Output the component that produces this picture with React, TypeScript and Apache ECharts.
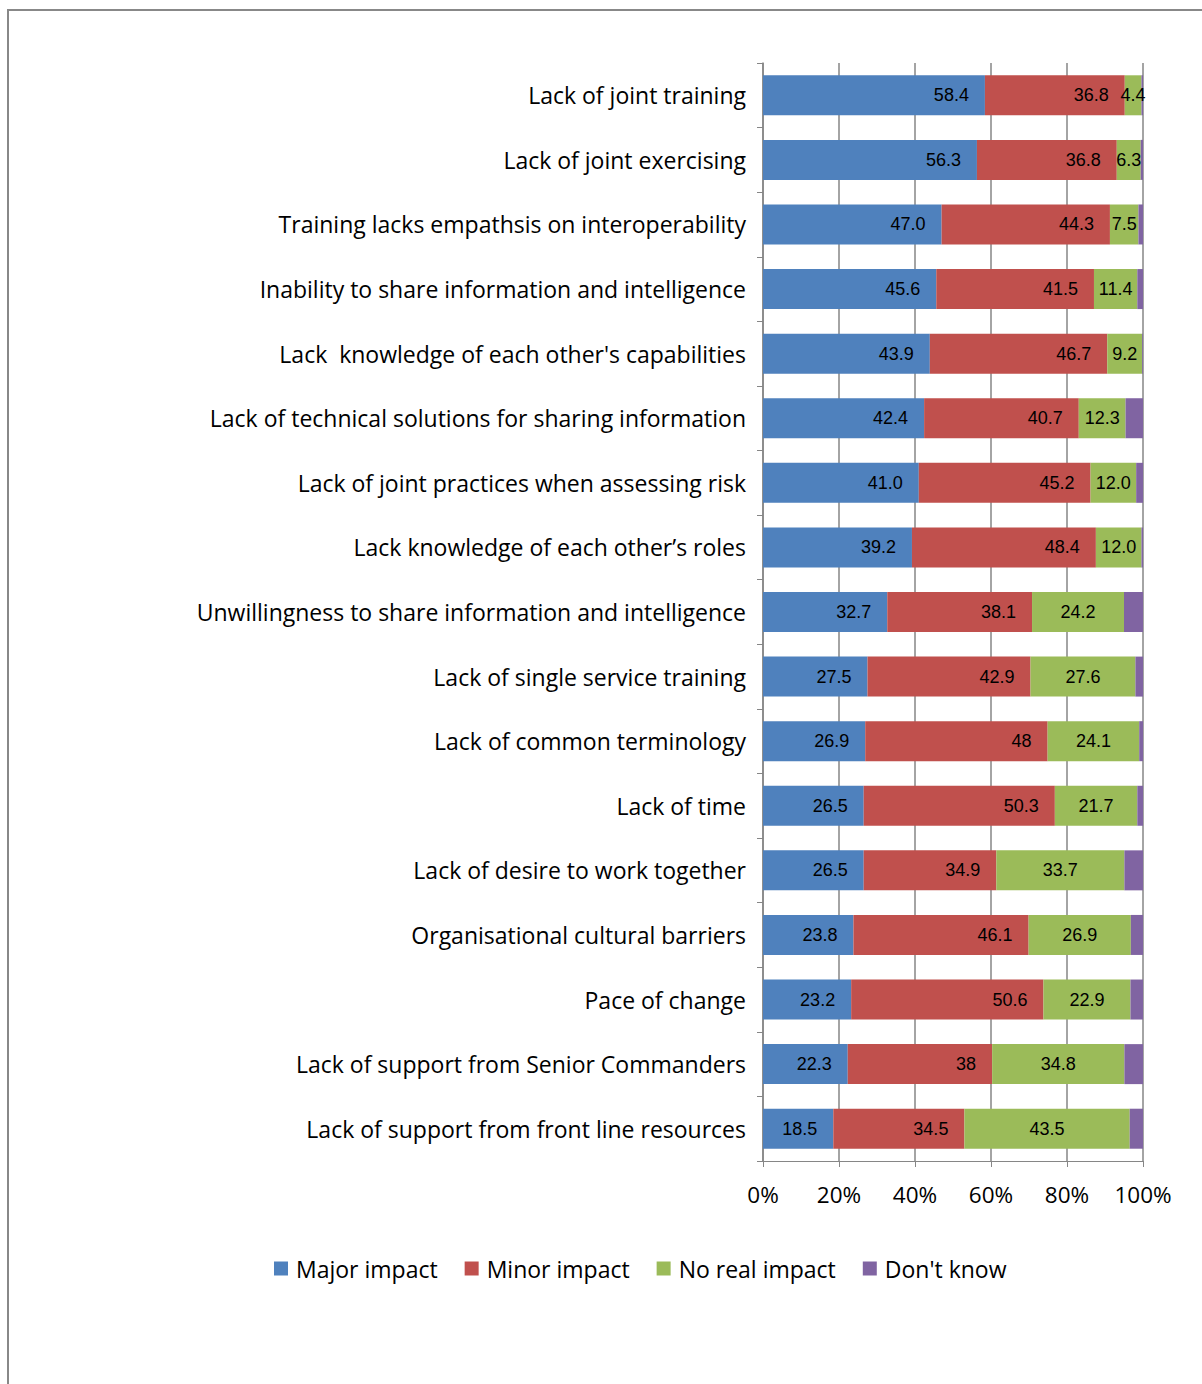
import React, { useEffect, useRef } from "react";
import * as echarts from "echarts";

const categories = [
  "Lack of joint training",
  "Lack of joint exercising",
  "Training lacks empathsis on interoperability",
  "Inability to share information and intelligence",
  "Lack  knowledge of each other's capabilities",
  "Lack of technical solutions for sharing information",
  "Lack of joint practices when assessing risk",
  "Lack knowledge of each other\u2019s roles",
  "Unwillingness to share information and intelligence",
  "Lack of single service training",
  "Lack of common terminology",
  "Lack of time",
  "Lack of desire to work together",
  "Organisational cultural barriers",
  "Pace of change",
  "Lack of support from Senior Commanders",
  "Lack of support from front line resources",
];

const majorImpact = ["58.4", "56.3", "47.0", "45.6", "43.9", "42.4", "41.0", "39.2", "32.7", "27.5", "26.9", "26.5", "26.5", "23.8", "23.2", "22.3", "18.5"];
const minorImpact = ["36.8", "36.8", "44.3", "41.5", "46.7", "40.7", "45.2", "48.4", "38.1", "42.9", "48", "50.3", "34.9", "46.1", "50.6", "38", "34.5"];
const noRealImpact = ["4.4", "6.3", "7.5", "11.4", "9.2", "12.3", "12.0", "12.0", "24.2", "27.6", "24.1", "21.7", "33.7", "26.9", "22.9", "34.8", "43.5"];
const dontKnow = ["0.4", "0.6", "1.2", "1.5", "0.2", "4.6", "1.8", "0.4", "5.0", "2.0", "1.0", "1.5", "4.9", "3.2", "3.3", "4.9", "3.5"];

const seriesNames = ["Major impact", "Minor impact", "No real impact", "Don't know"];
const seriesColors = ["#4F81BD", "#C0504D", "#9BBB59", "#8064A2"];
const xTicks = [0, 20, 40, 60, 80, 100];

export default function App() {
  const ref = useRef<HTMLDivElement>(null);
  useEffect(() => {
    if (!ref.current) return;
    const chart = echarts.init(ref.current, undefined, { renderer: "svg" });
    const gray = "#868686";
    const labelFont = {
      color: "#000",
      fontFamily: "'Liberation Sans', Arial, sans-serif",
      fontSize: 18,
    };
    const mk = (idx: number, raw: string[], labelPos: string | null) => ({
      name: seriesNames[idx],
      type: "bar",
      stack: "total",
      barWidth: 40,
      itemStyle: { color: seriesColors[idx] },
      label: labelPos
        ? {
            show: true,
            position: labelPos,
            distance: 16,
            ...labelFont,
            formatter: (p: any) => raw[p.dataIndex],
          }
        : { show: false },
      data: raw.map(Number),
    });
    chart.setOption({
      animation: false,
      backgroundColor: "#fff",
      textStyle: { fontFamily: "'Open Sans', sans-serif" },
      graphic: [
        {
          type: "rect",
          shape: { x: 8, y: 10, width: 1400, height: 1600 },
          style: { fill: "none", stroke: "#888", lineWidth: 2 },
          silent: true,
        },
      ],
      legend: {
        left: 269,
        top: 1252,
        itemWidth: 14,
        itemHeight: 14,
        itemGap: 27,
        icon: "rect",
        textStyle: {
          fontFamily: "'Open Sans', sans-serif",
          fontSize: 23,
          color: "#000",
          padding: [0, 0, 0, 3],
        },
        data: seriesNames,
      },
      grid: { left: 763, right: 59, top: 63, bottom: 223 },
      xAxis: {
        type: "value",
        min: 0,
        max: 100,
        interval: 20,
        axisLine: { show: true, lineStyle: { color: gray, width: 1 } },
        axisTick: { show: true, length: 6, lineStyle: { color: gray } },
        splitLine: { show: true, lineStyle: { color: gray, width: 1.5 } },
        axisLabel: {
          margin: 22,
          fontSize: 22.5,
          color: "#000",
          fontFamily: "'Open Sans', sans-serif",
          formatter: (v: number) => (xTicks.includes(v) ? v + "%" : ""),
        },
      },
      yAxis: {
        type: "category",
        inverse: true,
        data: categories,
        axisLine: { show: true, lineStyle: { color: gray, width: 1.5 } },
        axisTick: { show: true, length: 6, lineStyle: { color: gray } },
        axisLabel: {
          margin: 17,
          fontSize: 23,
          color: "#000",
          fontFamily: "'Open Sans', sans-serif",
        },
      },
      series: [
        mk(0, majorImpact, "insideRight"),
        mk(1, minorImpact, "insideRight"),
        mk(2, noRealImpact, "inside"),
        mk(3, dontKnow, null),
      ],
    });
    return () => chart.dispose();
  }, []);
  return (
    <div
      ref={ref}
      style={{ position: "fixed", left: 0, top: 0, width: 1202, height: 1384 }}
    />
  );
}
